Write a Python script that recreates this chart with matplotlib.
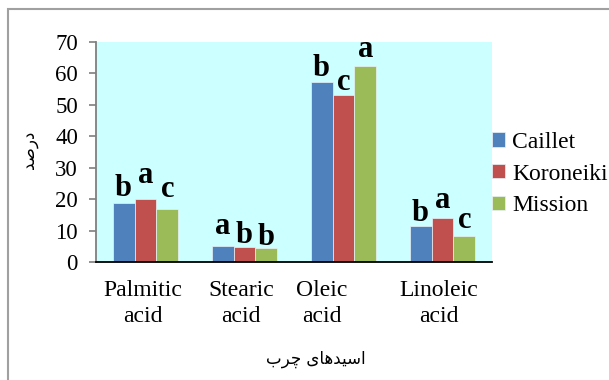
import matplotlib
matplotlib.use("Agg")
import matplotlib.pyplot as plt
from matplotlib.patches import Rectangle
import numpy as np

# ---- data ----
categories = ["Palmitic\nacid", "Stearic\nacid", "Oleic\nacid", "Linoleic\nacid"]
cultivars = ["Caillet", "Koroneiki", "Mission"]
caillet = [18.8, 5.2, 57.2, 11.5]
koroneiki = [19.95, 4.7, 53.2, 14.0]
mission = [16.8, 4.4, 62.4, 8.4]
letters_caillet = ["b", "a", "b", "b"]
letters_koroneiki = ["a", "b", "c", "a"]
letters_mission = ["c", "b", "a", "c"]
y_ticks = [0, 10, 20, 30, 40, 50, 60, 70]
x_title = "اسیدهای چرب"
y_title = "درصد"

colors = ["#4F81BD", "#C0504D", "#9BBB59"]


# ---- minimal Persian shaping (matplotlib has no text shaping) ----
# joining: 'D' dual-joining, 'R' right-joining only
_FORMS = {
    # char: (joining, isolated, final, initial, medial)
    "ا": ("R", "\uFE8D", "\uFE8E", None, None),
    "ب": ("D", "\uFE8F", "\uFE90", "\uFE91", "\uFE92"),
    "د": ("R", "\uFEA9", "\uFEAA", None, None),
    "ر": ("R", "\uFEAD", "\uFEAE", None, None),
    "س": ("D", "\uFEB1", "\uFEB2", "\uFEB3", "\uFEB4"),
    "ص": ("D", "\uFEB9", "\uFEBA", "\uFEBB", "\uFEBC"),
    "ه": ("D", "\uFEE9", "\uFEEA", "\uFEEB", "\uFEEC"),
    "ی": ("D", "\uFEEF", "\uFEF0", "\uFEF3", "\uFEF4"),
    "چ": ("D", "\uFB7A", "\uFB7B", "\uFB7C", "\uFB7D"),
}


def shape(text):
    out = []
    n = len(text)
    for i, ch in enumerate(text):
        if ch not in _FORMS:
            out.append(ch)
            continue
        jt, iso, fin, ini, med = _FORMS[ch]
        prev = text[i - 1] if i > 0 else None
        nxt = text[i + 1] if i < n - 1 else None
        joins_prev = prev in _FORMS and _FORMS[prev][0] == "D"
        joins_next = jt == "D" and nxt in _FORMS
        if joins_prev and joins_next:
            out.append(med)
        elif joins_prev:
            out.append(fin)
        elif joins_next:
            out.append(ini)
        else:
            out.append(iso)
    return "".join(reversed(out))


plt.rcParams["font.family"] = ["Liberation Serif", "DejaVu Serif"]

W, H = 609, 380
fig = plt.figure(figsize=(W / 100, H / 100), dpi=100)
ax = fig.add_axes([96 / W, 1 - 262 / H, (492 - 96) / W, (262 - 42) / H])
ax.set_facecolor("#CCFFFF")

x = np.arange(len(categories))
bw = 0.222
series = [caillet, koroneiki, mission]
letters = [letters_caillet, letters_koroneiki, letters_mission]
# vertical gap (pixels) between each bar top and its letter
letter_gap = [[7, 12, 6, 4.6], [16, 4.3, 4.3, 10], [12, 3, 9, 8]]

for k, (vals, name, col) in enumerate(zip(series, cultivars, colors)):
    xs = x + (k - 1) * bw
    ax.bar(xs, vals, width=bw, color=col, edgecolor="#EAF2F8",
           linewidth=0.5, label=name, zorder=2)
    for xi, v, lt, g in zip(xs, vals, letters[k], letter_gap[k]):
        ax.annotate(lt, (xi, v), xytext=(0, g), textcoords="offset pixels",
                    ha="center", va="baseline", fontsize=22,
                    fontweight="bold", zorder=3)

ax.set_xlim(-0.5, 3.5)
ax.set_ylim(0, 70)
ax.set_yticks(y_ticks)
ax.tick_params(axis="y", direction="out", length=5, width=1.2,
               color="#7F7F7F", labelsize=16.5, pad=8)

label_pos = [-0.027, 0.968, 1.78, 2.96]
ax.set_xticks(label_pos)
ax.set_xticklabels(categories, fontsize=17, linespacing=1.3)
ax.tick_params(axis="x", length=0, pad=13)

for s in ["top", "right"]:
    ax.spines[s].set_visible(False)
ax.spines["left"].set_color("#7F7F7F")
ax.spines["left"].set_linewidth(1.3)
ax.spines["bottom"].set_color("black")
ax.spines["bottom"].set_linewidth(1.3)

leg = ax.legend(loc="center left", bbox_to_anchor=(1.0, 0.40), frameon=False,
                fontsize=17, handlelength=0.55, handleheight=0.55,
                handletextpad=0.3, labelspacing=0.45, borderaxespad=0.0,
                borderpad=0.0)

fig.text(316 / W, 1 - 359 / H, shape(x_title), ha="center", va="center",
         fontsize=12, family=["DejaVu Sans"])
fig.text(29 / W, 1 - 150 / H, shape(y_title), ha="center", va="center",
         fontsize=12, rotation=90, family=["DejaVu Sans"])

# frame around the figure
fig.add_artist(Rectangle((8 / W, -0.1), 1.2, 1.1 - 9 / H,
                         transform=fig.transFigure, fill=False,
                         edgecolor="#A0A0A0", linewidth=1.5))

fig.savefig("out.png", dpi=100)
